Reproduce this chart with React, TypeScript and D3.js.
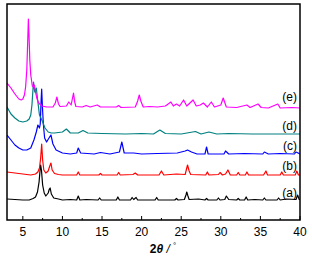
import React from "react";
import * as d3 from "d3";

// 2θ (degrees) and intensity (arbitrary units, offset per curve)
const seriesA: [number, number][] = [
  [3.0, 21], [4, 20.5], [5, 20], [5.8, 20], [6.3, 21.5], [6.6, 23], [6.85, 28], [7.05, 38], [7.2, 52], [7.25, 55],
  [7.35, 50], [7.5, 35], [7.7, 27], [7.9, 24], [8.2, 27], [8.35, 31], [8.45, 32], [8.6, 26], [8.9, 22], [9.5, 21],
  [10, 20], [11, 20.5], [11.8, 20], [12.0, 24], [12.2, 20],
  [13, 20.5], [14.5, 20], [14.7, 22], [14.9, 20], [16.8, 20], [17.0, 23], [17.2, 20], [18.6, 20], [18.8, 22.5],
  [19.0, 20.5], [19.3, 22.5], [19.5, 20], [21.7, 20], [21.9, 22.5], [22.1, 20], [24.2, 20], [24.4, 21.5], [24.6, 20],
  [25.4, 20.5], [25.6, 25], [25.7, 28], [25.85, 24], [26.0, 20.5], [27.2, 21], [28.0, 20], [28.2, 21.5], [28.4, 20],
  [29.5, 20], [29.7, 22], [29.9, 20], [30.5, 20.5], [30.7, 24], [31.0, 20.5], [32.0, 20], [32.2, 21.5], [32.4, 20],
  [33.0, 20], [33.2, 23], [33.4, 20], [34.3, 20.5], [35.3, 20], [35.5, 22], [35.7, 20], [37.1, 20], [37.3, 22],
  [37.5, 20], [38.3, 21], [39.5, 20.5], [39.7, 25], [39.9, 20.5], [40, 20.5],
];

const seriesB: [number, number][] = [
  [3.0, 48], [4, 47], [5, 46], [6, 45], [6.6, 46], [6.9, 48], [7.1, 52], [7.25, 62], [7.38, 76], [7.5, 60],
  [7.65, 50], [7.9, 47], [8.2, 49], [8.4, 54], [8.55, 57], [8.7, 50], [9.0, 46.5], [9.5, 45.5], [10, 45],
  [11.8, 45], [12.0, 48], [12.2, 45],
  [14.6, 45], [14.8, 46.5], [15, 45], [16.9, 45], [17.1, 47.5], [17.3, 45], [18.9, 45.5], [19.2, 47], [19.5, 45],
  [22.2, 45], [22.5, 49], [22.8, 45], [24.4, 46], [25.5, 45.5], [25.7, 52], [25.8, 55], [26.0, 49], [26.2, 45.5],
  [28.1, 45], [28.3, 48], [28.5, 45], [29.7, 45.5], [29.9, 47.5], [30.2, 45], [30.6, 46], [30.9, 50], [31.2, 45],
  [32.0, 45], [32.2, 47.5], [32.4, 45], [33.1, 45], [33.3, 48], [33.5, 45], [35.4, 45], [35.7, 49], [35.9, 45],
  [37.5, 45], [37.7, 48], [37.9, 45], [39.4, 45], [39.6, 49], [39.8, 45], [40, 45],
];

const seriesC: [number, number][] = [
  [3.0, 85], [3.5, 80], [4, 75], [4.5, 72], [5, 70], [5.5, 70], [6, 72], [6.4, 80], [6.7, 88], [6.9, 95],
  [7.1, 92], [7.2, 96], [7.3, 118], [7.38, 131], [7.48, 112], [7.6, 95], [7.75, 82], [8.0, 78], [8.3, 82],
  [8.55, 85], [8.8, 76], [9.2, 70], [10, 67], [11, 66], [11.8, 67], [12.0, 72], [12.3, 67], [14, 66],
  [14.8, 67.5], [16, 66], [17.2, 68], [17.5, 78], [17.8, 67], [19, 67], [20, 66], [22, 66.5], [24.5, 67],
  [25.5, 69], [25.8, 70], [26.3, 68], [27, 66], [28.0, 66], [28.2, 73], [28.4, 66], [30.4, 66], [30.6, 69],
  [31, 66], [33, 66.5], [35.3, 66], [35.5, 68], [36, 66], [37.5, 66.5], [39.3, 66], [39.5, 68], [40, 66],
];

const seriesD: [number, number][] = [
  [3.0, 113], [3.5, 106], [4, 102], [4.5, 99], [5, 98], [5.5, 99], [5.8, 101], [6.0, 105], [6.15, 115],
  [6.3, 133], [6.35, 138], [6.5, 128], [6.7, 132], [6.9, 118], [7.1, 105], [7.4, 100], [7.8, 92], [8.2, 88],
  [8.6, 87], [9, 87], [10, 88], [10.5, 91], [11, 87], [12, 87], [12.6, 89.5], [13.2, 87], [15, 86.5], [18, 86],
  [20, 86.5], [21.5, 86], [22.3, 90], [23, 86.5], [25, 86], [26.8, 88.5], [27.5, 86], [28.5, 88], [29.5, 86],
  [31, 86.5], [34, 86], [37, 86], [40, 86],
];

const seriesE: [number, number][] = [
  [3.0, 137], [3.5, 132], [4, 126], [4.5, 121], [4.8, 120], [5.0, 121], [5.2, 125], [5.35, 133], [5.5, 150],
  [5.6, 175], [5.7, 201], [5.78, 185], [5.88, 160], [6.0, 145], [6.2, 134], [6.35, 133], [6.45, 135], [6.6, 128],
  [6.8, 121], [7.0, 117], [7.4, 114], [8, 113], [8.8, 113], [9.1, 117], [9.3, 123], [9.5, 116], [9.7, 113.5],
  [10.5, 114], [10.8, 118], [11.1, 115], [11.3, 123], [11.4, 127], [11.55, 118], [11.7, 113.5], [12.5, 113],
  [13.0, 114.5], [13.5, 113], [14.4, 115], [14.8, 113], [16.8, 113], [17.1, 114.5], [17.4, 112.5], [19.2, 113],
  [19.5, 119], [19.7, 125], [19.9, 119], [20.2, 113], [21, 113.5], [22, 113], [23.0, 114], [23.7, 118], [24.0, 114],
  [24.4, 116], [24.8, 114], [25.3, 120], [25.7, 114], [26.5, 120], [26.9, 114], [27.4, 115], [27.8, 117],
  [28.3, 113], [28.8, 118], [29.2, 113], [30.0, 115], [30.3, 122], [30.7, 113], [32, 112.5], [33.3, 115],
  [33.7, 112.5], [34.7, 116], [35.1, 112.5], [36, 112], [37.2, 116], [37.5, 112], [39, 112.5], [40, 112],
];

const labels = ["(a)", "(b)", "(c)", "(d)", "(e)"];
const colors = ["#000000", "#ff0000", "#0000ff", "#008080", "#ff00ff"];
const labelValues = [20, 47, 67, 87, 116];
const xTicks = [5, 10, 15, 20, 25, 30, 35, 40];
const xMinorTicks = [7.5, 12.5, 17.5, 22.5, 27.5, 32.5, 37.5];

export default function App() {
  const W = 312, H = 258;
  const left = 7, right = 300, top = 4, bottom = 220;
  const x = d3.scaleLinear().domain([3, 40]).range([left, right]);
  const y = d3.scaleLinear().domain([0, 216]).range([bottom, top]);
  const line = d3.line<[number, number]>().x(d => x(d[0])).y(d => y(d[1]));
  const all = [seriesA, seriesB, seriesC, seriesD, seriesE];
  const font = "Arial, 'Liberation Sans', sans-serif";
  return (
    <svg width={W} height={H} style={{ position: "absolute", left: 0, top: 0 }} fontFamily={font}>
      <rect width={W} height={H} fill="#fff" />
      <defs>
        <clipPath id="plot">
          <rect x={left} y={top} width={right - left} height={bottom - top} />
        </clipPath>
      </defs>
      <g clipPath="url(#plot)">
        {all.map((s, i) => (
          <path key={i} d={line(s) || ""} fill="none" stroke={colors[i]} strokeWidth={1.2} strokeLinejoin="round" />
        ))}
      </g>
      {labels.map((l, i) => (
        <text key={l} x={297} y={y(labelValues[i]) - 3} textAnchor="end" fontSize={12} fill="#000">{l}</text>
      ))}
      {xTicks.map(t => (
        <g key={t}>
          <line x1={x(t)} x2={x(t)} y1={bottom} y2={bottom - 4} stroke="#000" strokeWidth={1} />
          <text x={x(t)} y={236} textAnchor="middle" fontSize={12} fill="#000">{t}</text>
        </g>
      ))}
      {xMinorTicks.map(t => (
        <line key={t} x1={x(t)} x2={x(t)} y1={bottom} y2={bottom - 2} stroke="#000" strokeWidth={1} />
      ))}
      <rect x={left} y={top} width={right - left} height={bottom - top} fill="none" stroke="#000" strokeWidth={1.5} />
      <text x={163} y={253} textAnchor="middle" fontSize={12} fill="#000">
        <tspan fontWeight="bold">2</tspan>
        <tspan fontWeight="bold" fontStyle="italic">θ</tspan>
        <tspan fontStyle="italic"> / </tspan>
        <tspan fontSize={8} dy={-5}>°</tspan>
      </text>
    </svg>
  );
}
